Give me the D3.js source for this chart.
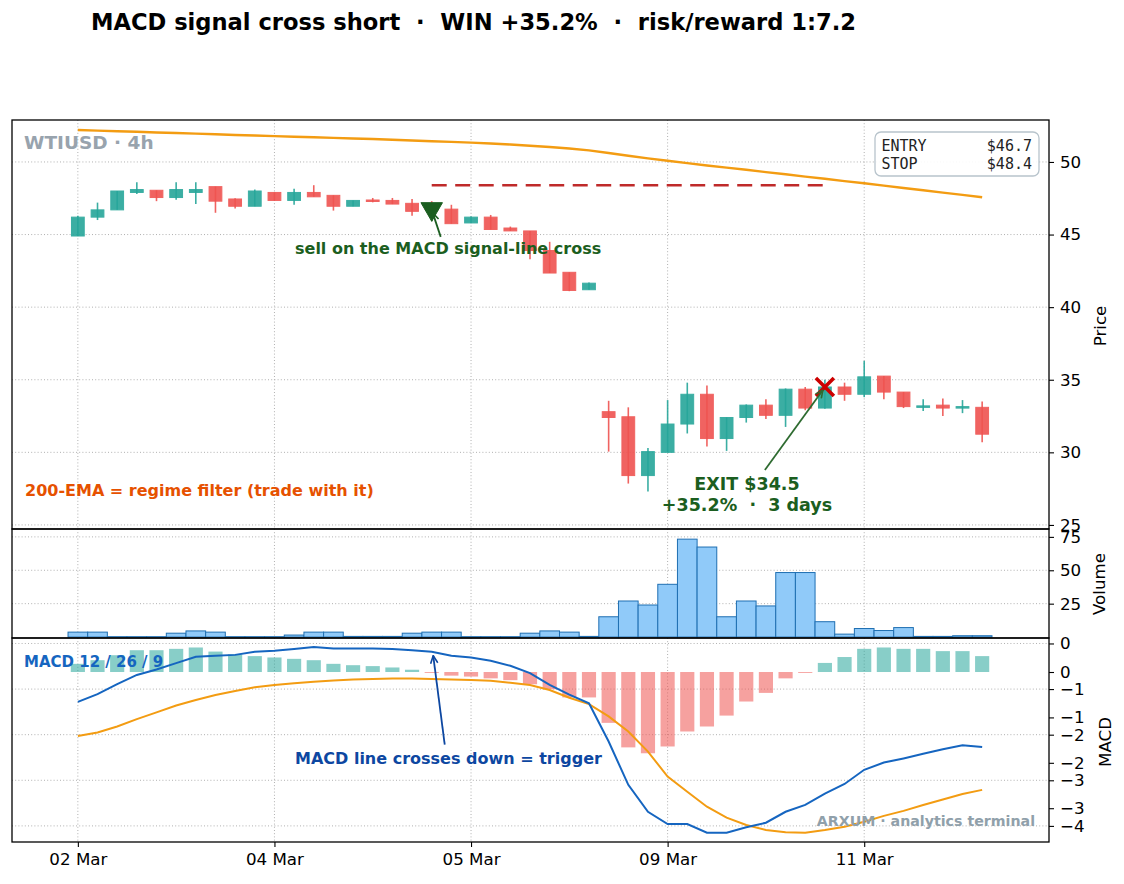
<!DOCTYPE html>
<html>
<head>
<meta charset="utf-8">
<script src="https://cdn.jsdelivr.net/npm/d3@7"></script>
<style>
body { margin: 0; background: #fff; }
svg { display: block; font-family: "DejaVu Sans", sans-serif; }
.grid line { stroke: #b0b0b0; stroke-width: 1; stroke-dasharray: 1, 2.2; }
.axis path { display: none; }
.axis line { stroke: #000; stroke-width: 1.1; }
.axis text { font-size: 16.7px; fill: #000; font-family: "DejaVu Sans", sans-serif; }
.lbl { font-size: 16.7px; fill: #000; }
</style>
</head>
<body>
<svg id="chart" width="1124" height="884"></svg>
<script>
// 4h candles
var opens  = [44.9, 46.2, 46.7, 47.9, 48.05, 47.55, 47.9, 48.3, 47.45, 46.95,
              47.9, 47.35, 47.9, 47.7, 46.95, 47.38, 47.35, 47.15, 47.1, 46.75,
              45.8, 46.2, 45.45, 45.25, 43.9, 42.4, 41.2, 32.8, 32.45, 28.4,
              30.0, 31.95, 34.0, 30.95, 32.4, 33.25, 32.55, 34.35, 33.05, 34.5,
              34.0, 35.25, 34.15, 33.15, 33.25, 33.05, 33.1];
var highs  = [46.3, 47.2, 48.0, 48.6, 48.05, 48.6, 48.6, 48.3, 47.5, 48.1,
              47.9, 48.15, 48.4, 47.7, 47.35, 47.52, 47.52, 47.45, 47.3, 47.05,
              46.25, 46.35, 45.55, 45.25, 44.5, 42.4, 41.7, 33.55, 33.1, 30.3,
              33.6, 34.8, 34.6, 32.4, 33.3, 33.65, 34.4, 34.5, 35.0, 34.8,
              36.3, 35.25, 34.15, 33.65, 33.7, 33.6, 33.5];
var lows   = [44.9, 46.0, 46.7, 47.8, 47.3, 47.4, 47.1, 46.5, 46.8, 46.95,
              47.35, 47.05, 47.6, 46.65, 46.95, 47.22, 47.1, 46.3, 46.6, 45.75,
              45.8, 45.35, 45.25, 43.3, 42.35, 41.1, 41.2, 30.05, 27.85, 27.3,
              30.0, 31.3, 30.4, 30.1, 32.05, 32.3, 31.75, 32.9, 33.0, 33.55,
              33.8, 33.65, 33.05, 32.85, 32.5, 32.7, 30.7];
var closes = [46.2, 46.7, 48.0, 48.1, 47.55, 48.1, 48.1, 47.3, 46.95, 48.0,
              47.35, 47.9, 47.6, 46.95, 47.35, 47.28, 47.1, 46.6, 46.7, 45.75,
              46.2, 45.35, 45.25, 43.9, 42.35, 41.15, 41.65, 32.4, 28.4, 30.05,
              31.95, 34.0, 30.95, 32.4, 33.25, 32.55, 34.35, 33.05, 34.5, 34.0,
              35.2, 34.15, 33.15, 33.2, 33.05, 33.15, 31.25];
var volumes = [3.7, 3.7, 0.3, 0.3, 0.3, 2.9, 4.6, 3.7, 0.3, 0.3,
               0.3, 1.5, 3.7, 3.7, 0.5, 0.5, 0.5, 2.9, 3.7, 3.7,
               0.3, 0.3, 0.3, 2.9, 4.6, 3.7, 0.5, 15.2, 27, 24,
               39.5, 73.3, 67.4, 15.2, 27, 23.3, 48.3, 48.3, 11.5, 2.2,
               6.4, 4.9, 7.1, 0.5, 0.5, 1, 1];
var ema200 = [52.20, 52.16, 52.12, 52.08, 52.03, 51.99, 51.95, 51.91, 51.86, 51.82,
              51.78, 51.74, 51.70, 51.66, 51.62, 51.58, 51.53, 51.48, 51.43, 51.38,
              51.33, 51.27, 51.20, 51.12, 51.03, 50.93, 50.80, 50.62, 50.43, 50.25,
              50.08, 49.92, 49.76, 49.61, 49.46, 49.30, 49.15, 48.99, 48.84, 48.68,
              48.53, 48.37, 48.21, 48.05, 47.89, 47.73, 47.57];
var macdLine = [-1.28, -1.11, -0.89, -0.69, -0.57, -0.43, -0.29, -0.27, -0.25, -0.18,
                -0.16, -0.12, -0.08, -0.11, -0.11, -0.11, -0.12, -0.15, -0.18, -0.27,
                -0.31, -0.38, -0.49, -0.65, -0.91, -1.12, -1.31, -2.15, -3.1, -3.69,
                -3.96, -3.96, -4.15, -4.15, -4.03, -3.93, -3.69, -3.54, -3.29, -3.08,
                -2.77, -2.61, -2.52, -2.42, -2.32, -2.23, -2.27];
var signalLine = [-2.03, -1.95, -1.82, -1.66, -1.51, -1.36, -1.24, -1.13, -1.04, -0.96,
                  -0.91, -0.87, -0.84, -0.81, -0.79, -0.78, -0.77, -0.77, -0.78, -0.79,
                  -0.80, -0.82, -0.86, -0.91, -1.02, -1.19, -1.33, -1.60, -1.93, -2.37,
                  -2.92, -3.25, -3.58, -3.82, -3.98, -4.09, -4.14, -4.15, -4.09, -4.02,
                  -3.91, -3.78, -3.67, -3.54, -3.42, -3.30, -3.21];
var histogram = [0.18, 0.26, 0.37, 0.48, 0.48, 0.51, 0.54, 0.45, 0.39, 0.35,
                 0.32, 0.29, 0.26, 0.18, 0.15, 0.13, 0.10, 0.05, -0.02, -0.08,
                 -0.10, -0.14, -0.18, -0.27, -0.38, -0.56, -0.56, -1.12, -1.66, -1.79,
                 -1.64, -1.31, -1.2, -0.96, -0.65, -0.46, -0.14, -0.02, 0.2, 0.33,
                 0.51, 0.54, 0.51, 0.51, 0.46, 0.46, 0.35];

var xTickIdx = [0, 10, 20, 30, 40];
var xTickLabels = ["02 Mar", "04 Mar", "05 Mar", "09 Mar", "11 Mar"];
var priceTicks = [25, 30, 35, 40, 45, 50];
var volTicks = [25, 50, 75];
var macdTicks = [0, -1, -2, -3, -4];
var histTicks = [0, -1, -2, -3];

var entryIdx = 18, entryPrice = 46.7;
var exitIdx = 38, exitPrice = 34.5;
var stopPrice = 48.4;

var svg = d3.select("#chart");
var left = 12, right = 1049;
var mainTop = 120, mainBottom = 529, volBottom = 638, macdBottom = 842;

var x = d3.scaleLinear().domain([-3.35, 49.4]).range([left, right]);
var yPrice = d3.scaleLinear().domain([24.72, 52.89]).range([mainBottom, mainTop]);
var yVol = d3.scaleLinear().domain([-0.7, 80.9]).range([volBottom, mainBottom]);
var yMacd = d3.scaleLinear().domain([-4.353, 0.12]).range([macdBottom, volBottom]);
var yHist = d3.scaleLinear().domain([-3.744, 0.749]).range([macdBottom, volBottom]);
var step = x(1) - x(0);
var idx = d3.range(opens.length);

var teal = "#26a69a", red = "#ef5350";
function up(i) { return closes[i] >= opens[i]; }

var defs = svg.append("defs");
function arrowMarker(id, color) {
  defs.append("marker").attr("id", id)
    .attr("viewBox", "0 0 10 10").attr("refX", 9.5).attr("refY", 5)
    .attr("markerWidth", 9).attr("markerHeight", 9)
    .attr("markerUnits", "userSpaceOnUse").attr("orient", "auto")
    .append("path").attr("d", "M1,1 L9.5,5 L1,9")
    .attr("fill", "none").attr("stroke", color).attr("stroke-width", 1.8);
}
arrowMarker("arrGreen", "#1b5e20");
arrowMarker("arrGreen2", "#2e6b30");
arrowMarker("arrBlue", "#0d47a1");

// grids
function grid(yScale, ticks, top, bottom) {
  var g = svg.append("g").attr("class", "grid");
  g.selectAll("line.v").data(xTickIdx).enter().append("line").attr("class", "v")
    .attr("x1", function(d) { return x(d); }).attr("x2", function(d) { return x(d); })
    .attr("y1", top).attr("y2", bottom);
  g.selectAll("line.h").data(ticks).enter().append("line").attr("class", "h")
    .attr("x1", left).attr("x2", right)
    .attr("y1", function(d) { return yScale(d); }).attr("y2", function(d) { return yScale(d); });
}
grid(yPrice, priceTicks, mainTop, mainBottom);
grid(yVol, volTicks, mainBottom, volBottom);
grid(yMacd, macdTicks, volBottom, macdBottom);

// ---- price panel ----
svg.append("path").datum(ema200)
  .attr("fill", "none").attr("stroke", "#f39c12").attr("stroke-width", 2.4)
  .attr("d", d3.line().x(function(d, i) { return x(i); }).y(function(d) { return yPrice(d); }));

svg.append("line")
  .attr("x1", x(entryIdx)).attr("x2", x(exitIdx))
  .attr("y1", yPrice(stopPrice)).attr("y2", yPrice(stopPrice))
  .attr("stroke", "#bf2a2a").attr("stroke-width", 2.6).attr("stroke-dasharray", "15,8.5");

var candles = svg.append("g");
candles.selectAll("line").data(idx).enter().append("line")
  .attr("x1", function(d) { return x(d); }).attr("x2", function(d) { return x(d); })
  .attr("y1", function(d) { return yPrice(highs[d]); })
  .attr("y2", function(d) { return yPrice(lows[d]); })
  .attr("stroke", function(d) { return up(d) ? teal : red; })
  .attr("stroke-width", 1.6).attr("opacity", 0.9);
candles.selectAll("rect").data(idx).enter().append("rect")
  .attr("x", function(d) { return x(d - 0.325); })
  .attr("width", step * 0.65)
  .attr("y", function(d) { return yPrice(Math.max(opens[d], closes[d])); })
  .attr("height", function(d) { return Math.max(1.5, Math.abs(yPrice(opens[d]) - yPrice(closes[d]))); })
  .attr("fill", function(d) { return up(d) ? teal : red; })
  .attr("stroke", function(d) { return up(d) ? teal : red; })
  .attr("stroke-width", 1).attr("opacity", 0.9);

// entry / exit markers
var ex = x(entryIdx), ey = yPrice(entryPrice);
svg.append("path")
  .attr("d", d3.symbol().type(d3.symbolTriangle).size(200)())
  .attr("transform", "translate(" + ex + "," + (ey - 1) + ") rotate(180)")
  .attr("fill", "#1b5e20").attr("stroke", "#1b5e20").attr("stroke-width", 1);

var xx = x(exitIdx), xy = yPrice(exitPrice);
svg.append("path")
  .attr("d", "M-9,-9L9,9M-9,9L9,-9")
  .attr("transform", "translate(" + xx + "," + xy + ")")
  .attr("stroke", "#cc0000").attr("stroke-width", 3.6).attr("fill", "none");

// annotations
svg.append("line").attr("x1", ex + 9).attr("y1", ey + 27).attr("x2", ex + 1).attr("y2", ey + 3)
  .attr("stroke", "#1b5e20").attr("stroke-width", 1.8).attr("marker-end", "url(#arrGreen)");
svg.append("text").attr("x", 295).attr("y", 254)
  .attr("font-size", 16).attr("font-weight", "bold").attr("fill", "#1b5e20")
  .text("sell on the MACD signal-line cross");

svg.append("line").attr("x1", xx - 60).attr("y1", xy + 83).attr("x2", xx - 2).attr("y2", xy + 3)
  .attr("stroke", "#2e6b30").attr("stroke-width", 1.8).attr("marker-end", "url(#arrGreen2)");
svg.append("text").attr("x", 747).attr("y", 490).attr("text-anchor", "middle")
  .attr("font-size", 17.5).attr("font-weight", "bold").attr("fill", "#1b5e20")
  .text("EXIT $34.5");
svg.append("text").attr("x", 747).attr("y", 511).attr("text-anchor", "middle")
  .attr("font-size", 17.5).attr("font-weight", "bold").attr("fill", "#1b5e20")
  .attr("xml:space", "preserve").style("white-space", "pre")
  .text("+35.2%  \u00b7  3 days");

svg.append("text").attr("x", 25).attr("y", 496)
  .attr("font-size", 16).attr("font-weight", "bold").attr("fill", "#e65100")
  .text("200-EMA = regime filter (trade with it)");

svg.append("text").attr("x", 24).attr("y", 149)
  .attr("font-size", 18.5).attr("font-weight", "bold").attr("fill", "#98a3ad")
  .text("WTIUSD \u00b7 4h");

// entry/stop box
svg.append("rect").attr("x", 875).attr("y", 132).attr("width", 164).attr("height", 44).attr("rx", 6)
  .attr("fill", "#fff").attr("fill-opacity", 0.9).attr("stroke", "#b8c4cc").attr("stroke-width", 1.3);
var boxRows = [["ENTRY", "$" + entryPrice.toFixed(1)], ["STOP", "$" + stopPrice.toFixed(1)]];
boxRows.forEach(function(r, i) {
  svg.append("text").attr("x", 881.5).attr("y", 151 + i * 18)
    .attr("font-family", "DejaVu Sans Mono").attr("font-size", 15).attr("fill", "#222").text(r[0]);
  svg.append("text").attr("x", 1032).attr("y", 151 + i * 18).attr("text-anchor", "end")
    .attr("font-family", "DejaVu Sans Mono").attr("font-size", 15).attr("fill", "#222").text(r[1]);
});

// ---- volume panel ----
svg.append("g").selectAll("rect").data(idx).enter().append("rect")
  .attr("x", function(d) { return x(d - 0.5); })
  .attr("width", step)
  .attr("y", function(d) { return yVol(volumes[d]); })
  .attr("height", function(d) { return yVol(0) - yVol(volumes[d]); })
  .attr("fill", "#90caf9").attr("stroke", "#1f6fb2").attr("stroke-width", 1);

// ---- MACD panel ----
svg.append("g").selectAll("rect").data(idx).enter().append("rect")
  .attr("x", function(d) { return x(d - 0.36); })
  .attr("width", step * 0.72)
  .attr("y", function(d) { return yHist(Math.max(0, histogram[d])); })
  .attr("height", function(d) { return Math.abs(yHist(histogram[d]) - yHist(0)); })
  .attr("fill", function(d) { return histogram[d] >= 0 ? teal : red; })
  .attr("fill-opacity", 0.55);

var macdPath = d3.line().x(function(d, i) { return x(i); }).y(function(d) { return yMacd(d); });
svg.append("path").datum(signalLine).attr("fill", "none")
  .attr("stroke", "#f39c12").attr("stroke-width", 2).attr("d", macdPath);
svg.append("path").datum(macdLine).attr("fill", "none")
  .attr("stroke", "#1565c0").attr("stroke-width", 2).attr("d", macdPath);

svg.append("text").attr("x", 24).attr("y", 667)
  .attr("font-size", 15).attr("font-weight", "bold").attr("fill", "#1565c0")
  .text("MACD 12 / 26 / 9");

var mx = x(entryIdx), my = yMacd(macdLine[entryIdx]);
svg.append("line").attr("x1", mx + 13).attr("y1", my + 93).attr("x2", mx + 1.5).attr("y2", my + 4)
  .attr("stroke", "#0d47a1").attr("stroke-width", 1.8).attr("marker-end", "url(#arrBlue)");
svg.append("text").attr("x", 295).attr("y", 764)
  .attr("font-size", 16).attr("font-weight", "bold").attr("fill", "#0d47a1")
  .text("MACD line crosses down = trigger");

svg.append("text").attr("x", 1035).attr("y", 826).attr("text-anchor", "end")
  .attr("font-size", 14.2).attr("font-weight", "bold").attr("fill", "#90a0aa")
  .text("ARXUM \u00b7 analytics terminal");

// ---- frames ----
[[mainTop, mainBottom], [mainBottom, volBottom], [volBottom, macdBottom]].forEach(function(p) {
  svg.append("rect").attr("x", left).attr("y", p[0]).attr("width", right - left).attr("height", p[1] - p[0])
    .attr("fill", "none").attr("stroke", "#000").attr("stroke-width", 1.3);
});

// ---- axes ----
function rightAxis(scale, ticks) {
  svg.append("g").attr("class", "axis").attr("transform", "translate(" + right + ",0)")
    .call(d3.axisRight(scale).tickValues(ticks).tickSize(5).tickPadding(6).tickFormat(d3.format("d")));
}
rightAxis(yPrice, priceTicks);
rightAxis(yVol, volTicks);
rightAxis(yMacd, macdTicks);
rightAxis(yHist, histTicks);

svg.append("g").attr("class", "axis").attr("transform", "translate(0," + macdBottom + ")")
  .call(d3.axisBottom(x).tickValues(xTickIdx).tickSize(5).tickPadding(6)
    .tickFormat(function(d, i) { return xTickLabels[i]; }));

function yLabel(txt, xp, yp) {
  svg.append("text").attr("class", "lbl").attr("text-anchor", "middle")
    .attr("transform", "translate(" + xp + "," + yp + ") rotate(-90)").text(txt);
}
yLabel("Price", 1106, 326);
yLabel("Volume", 1105, 584);
yLabel("MACD", 1111, 742);

// title
svg.append("text").attr("x", 91).attr("y", 30)
  .attr("font-size", 22.6).attr("font-weight", "bold").attr("fill", "#000")
  .style("white-space", "pre")
  .text("MACD signal cross short  \u00b7  WIN +35.2%  \u00b7  risk/reward 1:7.2");
</script>
</body>
</html>
